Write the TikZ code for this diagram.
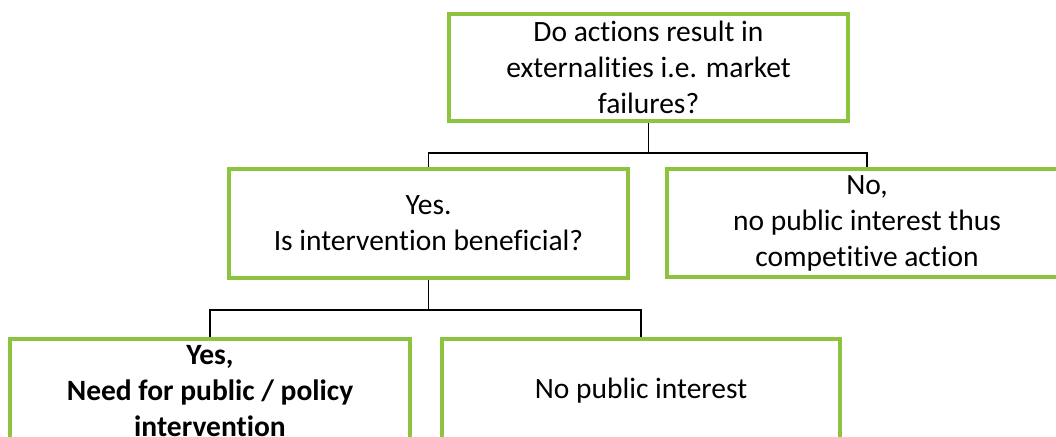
\documentclass[tikz,border=0pt]{standalone}
\usepackage{fontspec}
\setmainfont[Ligatures=NoCommon]{Carlito}
\definecolor{boxgreen}{RGB}{141,196,63}
\tikzset{
  qbox/.style={draw=boxgreen, line width=4pt, fill=white, inner sep=0pt,
    align=center, text=black, font=\fontsize{29.5}{36}\selectfont},
  link/.style={draw=black, line width=1.8pt}
}
\begin{document}
\begin{tikzpicture}[x=1pt,y=-1pt]
\useasboundingbox (0,0) rectangle (1056,436);
\clip (0,0) rectangle (1056,436);
\fill[white] (0,0) rectangle (1056,436);

% question boxes
\node[qbox, minimum width=399pt, minimum height=107pt] (top) at (648.5,67.5)
  {Do actions result in\\externalities i.e. market\\failures?};
\node[qbox, minimum width=399pt, minimum height=109pt] (yes1) at (428.5,223.5)
  {Yes.\\Is intervention beneficial?};
\node[qbox, minimum width=400pt, minimum height=108pt] (no1) at (867,223)
  {No,\\no public interest thus\\competitive action};
\node[qbox, minimum width=400pt, minimum height=104pt, font=\fontsize{29.5}{36}\selectfont\bfseries] (yes2) at (210,391)
  {Yes,\\Need for public / policy\\intervention};
\node[qbox, minimum width=398pt, minimum height=104pt] (no2) at (641,391)
  {No public interest};

% junction levels of the tree connectors
\coordinate (j1) at (0,153);
\coordinate (j2) at (0,310);

\draw[link] (top.south) -- (top.south |- j1) -| (yes1.north);
\draw[link] (top.south |- j1) -| (no1.north);
\draw[link] (yes1.south) -- (yes1.south |- j2) -| (yes2.north);
\draw[link] (yes1.south |- j2) -| (no2.north);
\end{tikzpicture}
\end{document}
